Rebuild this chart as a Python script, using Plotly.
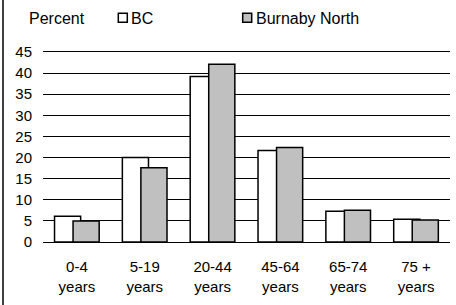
import plotly.graph_objects as go

categories = ["0-4<br>years", "5-19<br>years", "20-44<br>years", "45-64<br>years", "65-74<br>years", "75 +<br>years"]
bc_values = [6.1, 20.0, 39.2, 21.7, 7.3, 5.4]
burnaby_values = [5.0, 17.6, 42.1, 22.4, 7.5, 5.2]
y_ticks = [0, 5, 10, 15, 20, 25, 30, 35, 40, 45]

W, H = 456, 305
L, R, T, B = 43, 6, 52, 63
PW, PH = W - L - R, H - T - B

def px_x(px):
    return (px - L) / PW

def px_y(py):
    return (H - B - py) / PH

FONT = "Liberation Sans, Arial, sans-serif"
FS = 15
LFS = 16

fig = go.Figure()
fig.add_trace(go.Bar(
    x=categories, y=bc_values, name="BC",
    marker=dict(color="white", line=dict(color="black", width=1.5)),
    width=0.385, offset=-0.33, hoverinfo="skip",
))
fig.add_trace(go.Bar(
    x=categories, y=burnaby_values, name="Burnaby North",
    marker=dict(color="#c0c0c0", line=dict(color="black", width=1.5)),
    width=0.385, offset=-0.057, hoverinfo="skip",
))

shapes = [
    dict(type="line", xref="paper", yref="paper", x0=px_x(3), x1=px_x(3), y0=px_y(H), y1=px_y(0),
         line=dict(color="black", width=1.5)),
    dict(type="rect", xref="paper", yref="paper", x0=px_x(118.3), x1=px_x(127.3), y0=px_y(22.3), y1=px_y(13.3),
         fillcolor="white", line=dict(color="black", width=1.5)),
    dict(type="rect", xref="paper", yref="paper", x0=px_x(242.7), x1=px_x(251.7), y0=px_y(22.3), y1=px_y(13.3),
         fillcolor="#c0c0c0", line=dict(color="black", width=1.5)),
]

annotations = [
    dict(text="Percent", xref="paper", yref="paper", x=px_x(27), y=px_y(18), xanchor="left", yanchor="middle",
         showarrow=False, font=dict(family=FONT, size=LFS, color="black")),
    dict(text="BC", xref="paper", yref="paper", x=px_x(128.5), y=px_y(18), xanchor="left", yanchor="middle",
         showarrow=False, font=dict(family=FONT, size=LFS, color="black")),
    dict(text="Burnaby North", xref="paper", yref="paper", x=px_x(253.5), y=px_y(18), xanchor="left", yanchor="middle",
         showarrow=False, font=dict(family=FONT, size=LFS, color="black")),
]

fig.update_layout(
    width=W, height=H,
    margin=dict(l=L, r=R, t=T, b=B, pad=0),
    paper_bgcolor="white", plot_bgcolor="white",
    barmode="overlay", showlegend=False,
    font=dict(family=FONT, size=FS, color="black"),
    shapes=shapes, annotations=annotations,
)
fig.update_xaxes(
    type="category", range=[-0.5, 5.5],
    showline=True, mirror=True, linecolor="black", linewidth=1,
    showgrid=False, ticks="", tickfont=dict(family=FONT, size=FS, color="black"),
    ticklabelstandoff=11,
)
fig.update_yaxes(
    range=[0, 45], tickvals=y_ticks, showline=False,
    showgrid=True, gridcolor="black", gridwidth=1,
    zeroline=True, zerolinecolor="black", zerolinewidth=1,
    ticks="", tickfont=dict(family=FONT, size=FS, color="black"),
    ticklabelstandoff=10,
)

fig.write_html(
    "out.html",
    config={"displayModeBar": False},
    post_script="document.body.style.margin='0';document.body.style.overflow='hidden';",
)
